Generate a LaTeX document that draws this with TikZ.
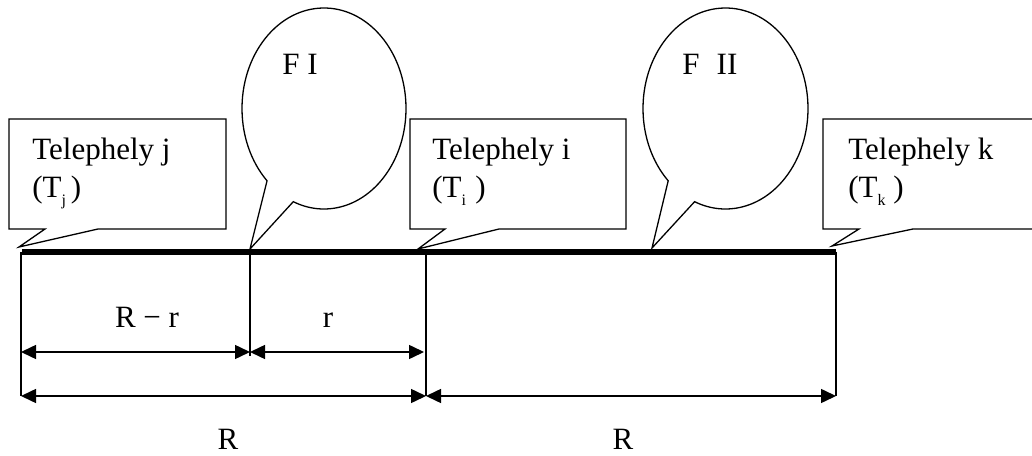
\documentclass[tikz,border=0pt]{standalone}
\usepackage{fontspec}
\setmainfont{Liberation Serif}
\usetikzlibrary{arrows.meta}
% small, deeply lowered index used in the site labels
\newcommand\siteidx[1]{\raisebox{-3.8pt}{\fontsize{8}{8}\selectfont #1}}
\begin{document}
\begin{tikzpicture}[x=0.5pt,y=0.5pt,
  outline/.style={draw=black, line width=0.65pt, fill=white, line join=miter},
  axisline/.style={line width=3.2pt, line cap=butt},
  tick/.style={line width=0.65pt},
  dimline/.style={line width=0.75pt,
    {Triangle[length=7.5pt,width=7pt]}-{Triangle[length=7.5pt,width=7pt]}},
  lbl/.style={inner sep=0pt, anchor=base west, font=\fontsize{15.5}{18}\selectfont},
  dimlbl/.style={inner sep=0pt, anchor=base, font=\fontsize{15.5}{18}\selectfont}
]
\useasboundingbox (0,0) rectangle (1032,455);
\clip (0,0) rectangle (1032,455);

% points on the route
\coordinate (Aj) at (21,203);
\coordinate (Af) at (250,203);
\coordinate (Ai) at (426,203);
\coordinate (Ak) at (836,203);
\coordinate (row1) at (0,103);
\coordinate (row2) at (0,59);

% site callouts
\coordinate (tipJ) at (19,208);
\coordinate (tipI) at (418,206);
\coordinate (tipK) at (832,209);
\draw[outline] (9,336) -- (226,336) -- (226,226) -- (98,226) -- (tipJ) -- (45,226) -- (9,226) -- cycle;
\draw[outline] (410,336) -- (626,336) -- (626,226) -- (499,226) -- (tipI) -- (445,226) -- (410,226) -- cycle;
\draw[outline] (823,336) -- (1045,336) -- (1045,226) -- (913,226) -- (tipK) -- (859,226) -- (823,226) -- cycle;

\node[lbl] (tj) at (32,295) {Telephely j};
\node[lbl] (tjs) at (32,257) {(T\siteidx{j}\hspace{0.15em})};
\node[lbl] (ti) at (432,295) {Telephely i};
\node[lbl] (tis) at (432,257) {(T\siteidx{i}\hspace{0.3em})};
\node[lbl] (tk) at (848,295) {Telephely k};
\node[lbl] (tks) at (848,257) {(T\siteidx{k}\hspace{0.25em})};

% speech balloons
\coordinate (cI) at (324,346.5);
\coordinate (cII) at (725.5,346.5);
\coordinate (tipFI) at (250,206);
\coordinate (tipFII) at (652,207);
\draw[outline] (tipFI) -- ([shift={(226:41pt and 50.25pt)}]cI)
  arc[start angle=226, end angle=-112, x radius=41pt, y radius=50.25pt] -- cycle;
\draw[outline] (tipFII) -- ([shift={(226:41.25pt and 50.25pt)}]cII)
  arc[start angle=226, end angle=-112, x radius=41.25pt, y radius=50.25pt] -- cycle;
\node[lbl] (fI) at (282,380) {F I};
\node[lbl] (fII) at (682,380) {F\hspace{0.55em}II};

% the route
\draw[axisline] ([xshift=0.5pt]Aj) -- (Ak);

% extension lines
\draw[tick] (Aj) -- (Aj |- row2);
\draw[tick] (Af) -- ([yshift=-2pt]Af |- row1);
\draw[tick] (Ai) -- (Ai |- row2);
\draw[tick] (Ak) -- (Ak |- row2);

% dimensions
\draw[dimline] (Aj |- row1) -- (Af |- row1);
\draw[dimline] (Af |- row1) -- ([xshift=-1pt]Ai |- row1);
\draw[dimline] (Aj |- row2) -- (Ai |- row2);
\draw[dimline] (Ai |- row2) -- (Ak |- row2);

\node[dimlbl] (lRr) at (147,127) {R − r};
\node[dimlbl] (lr) at (328,127) {r};
\node[dimlbl] (lR1) at (228,6) {R};
\node[dimlbl] (lR2) at (623,6) {R};
\end{tikzpicture}
\end{document}
